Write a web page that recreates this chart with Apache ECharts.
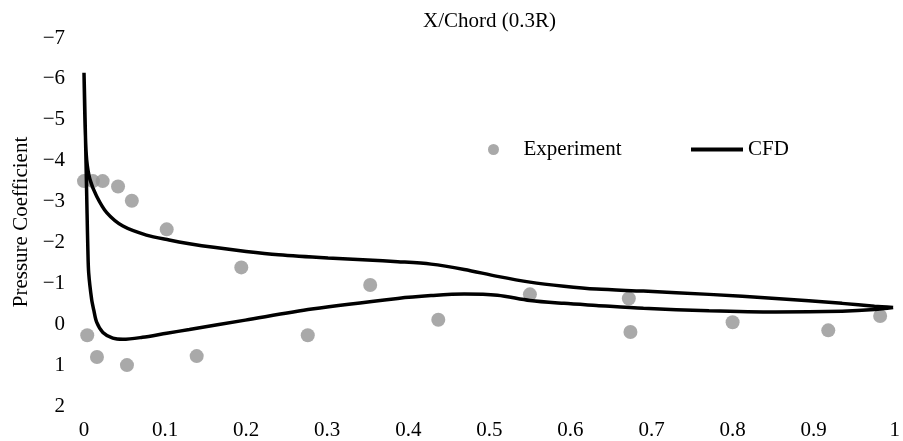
<!DOCTYPE html>
<html>
<head>
<meta charset="utf-8">
<script src="https://cdn.jsdelivr.net/npm/echarts@6/dist/echarts.min.js"></script>
<style>
html,body{margin:0;padding:0;background:#fff;}
#chart{width:903px;height:441px;}
</style>
</head>
<body>
<div id="chart"></div>
<script>
// Experiment data
const expX = [0.0, 0.011, 0.023, 0.042, 0.059, 0.102, 0.194, 0.004, 0.016, 0.053, 0.139, 0.276, 0.353, 0.437, 0.550, 0.672, 0.674, 0.800, 0.918, 0.982];
const expY = [-3.5, -3.5, -3.5, -3.37, -3.02, -2.32, -1.39, 0.27, 0.80, 1.0, 0.78, 0.27, -0.96, -0.11, -0.73, -0.63, 0.19, -0.05, 0.15, -0.2];

// CFD loop: upper surface (trailing edge -> leading edge), then lower surface (leading edge -> trailing edge)
const cfdX = [0.998, 0.975, 0.935, 0.853, 0.771, 0.69, 0.632, 0.592, 0.55, 0.51, 0.469, 0.428, 0.387, 0.35, 0.301, 0.24, 0.2, 0.16, 0.13, 0.105, 0.077, 0.048, 0.028, 0.0156, 0.0074, 0.0033, 0.0015, 0.0006, 0.0,
              0.0008, 0.0018, 0.0025, 0.0038, 0.0048, 0.0058, 0.0094, 0.012, 0.0156, 0.0233, 0.0355, 0.048, 0.072, 0.102, 0.13, 0.199, 0.281, 0.387, 0.428, 0.469, 0.51, 0.55, 0.592, 0.632, 0.69, 0.771, 0.853, 0.935, 0.975, 0.998];
const cfdY = [-0.41, -0.44, -0.51, -0.63, -0.73, -0.81, -0.86, -0.93, -1.03, -1.17, -1.34, -1.47, -1.53, -1.57, -1.62, -1.7, -1.78, -1.88, -1.97, -2.06, -2.18, -2.4, -2.73, -3.13, -3.54, -4.02, -4.76, -5.5, -6.15,
              -5.5, -4.6, -3.95, -2.7, -1.8, -1.25, -0.61, -0.35, -0.05, 0.2, 0.34, 0.37, 0.32, 0.22, 0.13, -0.1, -0.37, -0.63, -0.7, -0.74, -0.71, -0.58, -0.51, -0.46, -0.39, -0.33, -0.3, -0.32, -0.36, -0.41];

const xTicks = {min: 0, max: 1, step: 0.1};
const yTicks = {min: -7, max: 2, step: 1};

const FONT = 'Liberation Serif';
const FS = 21;
const expData = expX.map((x, i) => [x, expY[i]]);
const cfdData = cfdX.map((x, i) => [x, cfdY[i]]);

const chart = echarts.init(document.getElementById('chart'), null, {renderer: 'canvas'});
chart.setOption({
  animation: false,
  backgroundColor: '#ffffff',
  title: {
    text: 'X/Chord (0.3R)',
    left: 418, top: 6,
    textStyle: {fontFamily: FONT, fontSize: FS, fontWeight: 'normal', color: '#000'}
  },
  legend: [
    {
      data: ['Experiment'],
      left: 483, top: 134,
      itemWidth: 50, itemHeight: 11,
      textStyle: {fontFamily: FONT, fontSize: FS, color: '#000'}
    },
    {
      data: [{name: 'CFD', icon: 'path://M0,0H53V4H0Z'}],
      left: 686, top: 134,
      itemWidth: 52, itemHeight: 4,
      itemStyle: {color: '#000'},
      textStyle: {fontFamily: FONT, fontSize: FS, color: '#000'}
    }
  ],
  grid: {left: 84, right: 4, top: 38, bottom: 34, containLabel: false},
  xAxis: {
    type: 'value',
    min: xTicks.min, max: xTicks.max, interval: xTicks.step,
    axisLine: {show: false}, axisTick: {show: false}, splitLine: {show: false},
    axisLabel: {
      fontFamily: FONT, fontSize: FS, color: '#000', margin: 14,
      formatter: v => String(Math.round(v * 10) / 10)
    }
  },
  yAxis: {
    type: 'value', inverse: true,
    min: yTicks.min, max: yTicks.max, interval: yTicks.step,
    name: 'Pressure Coefficient',
    nameLocation: 'middle', nameGap: 52, nameRotate: 90,
    nameTextStyle: {fontFamily: FONT, fontSize: FS, color: '#000'},
    axisLine: {show: false}, axisTick: {show: false}, splitLine: {show: false},
    axisLabel: {
      fontFamily: FONT, fontSize: FS, color: '#000', margin: 19,
      formatter: v => (v < 0 ? '\u2212' + Math.abs(v) : String(v))
    }
  },
  series: [
    {
      name: 'Experiment',
      type: 'scatter',
      data: expData,
      symbol: 'circle',
      symbolSize: 14,
      itemStyle: {color: '#939393'}
    },
    {
      name: 'CFD',
      type: 'line',
      data: cfdData,
      showSymbol: false,
      symbol: 'none',
      smooth: 0.3,
      lineStyle: {color: '#000', width: 3.5},
      itemStyle: {color: '#000'}
    }
  ]
});
</script>
</body>
</html>
